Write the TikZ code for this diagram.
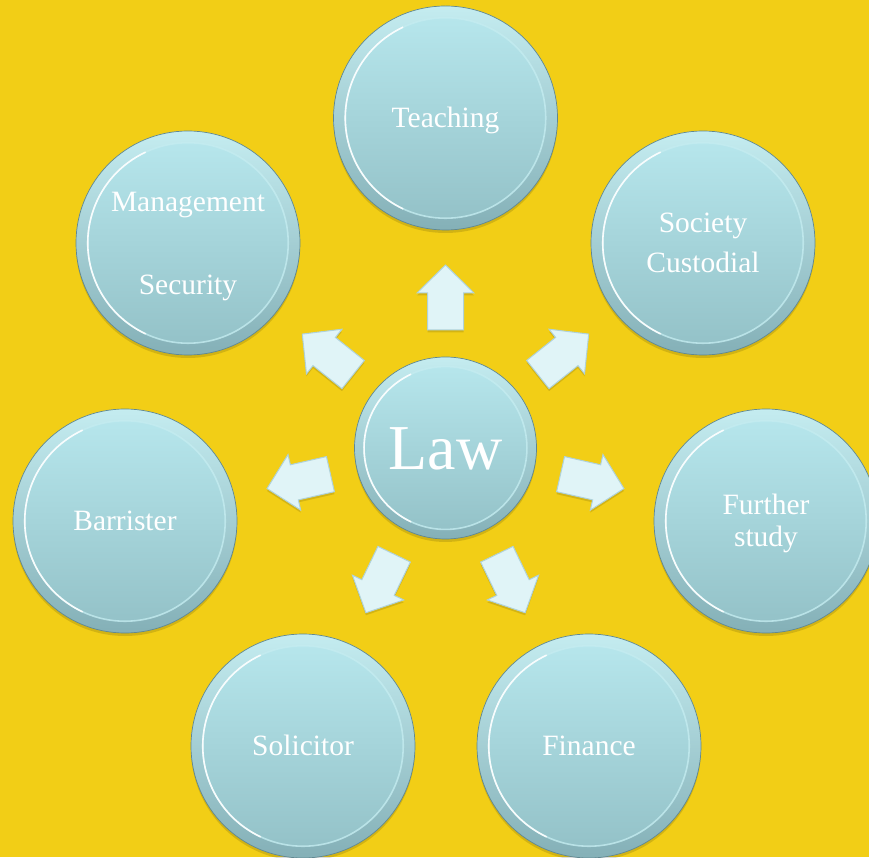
\documentclass[tikz,border=0pt]{standalone}
\usepackage{fontspec}
\setmainfont{Liberation Serif}
\definecolor{bg}{RGB}{242,206,22}
\definecolor{rimtop}{RGB}{196,236,240}
\definecolor{rimbot}{RGB}{132,176,183}
\definecolor{intop}{RGB}{184,232,238}
\definecolor{inbot}{RGB}{146,192,198}
\definecolor{rimline}{RGB}{96,136,146}
\definecolor{arrfill}{RGB}{224,244,247}
\definecolor{arrline}{RGB}{176,210,217}
\newcommand\tstrut{\rule{0pt}{0.891em}}
\newcommand\bstrut{\rule[-0.216em]{0pt}{0.216em}}
\tikzset{
  bubble/.style={circle, inner sep=0pt, minimum size=2*#1pt,
    draw=rimline, line width=0.7pt,
    top color=rimtop, bottom color=rimbot,
    text=white, align=center,
    preaction={fill=black, fill opacity=0.13, transform canvas={yshift=-3pt}},
    path picture={
      \shade[top color=intop, bottom color=inbot]
        (path picture bounding box.center) circle (0.895*#1pt);
      \draw[rimtop, line width=1.6pt, opacity=0.8]
        (path picture bounding box.center) circle (0.895*#1pt);
      \draw[white, line width=1.6pt, opacity=0.9]
        (path picture bounding box.center) ++(115:0.895*#1pt) arc (115:245:0.895*#1pt);
    }},
  outer/.style={bubble=112, font=\fontsize{29.5}{33}\selectfont},
  blockarr/.style={fill=arrfill, draw=arrline, line width=1pt, line join=miter,
    preaction={fill=black, fill opacity=0.12, transform canvas={yshift=-2.5pt}}}
}
\newcommand\lawarrow[1]{%
  \begin{scope}[shift={(law.center)}, rotate=#1]
    \path[blockarr] (118,-18) -- (155,-18) -- (155,-28.5) -- (183,0)
      -- (155,28.5) -- (155,18) -- (118,18) -- cycle;
  \end{scope}}
\begin{document}
\begin{tikzpicture}[x=1pt, y=1pt]
  \fill[bg] (0,0) rectangle (869,857);
  \useasboundingbox (0,0) rectangle (869,857);

  \node[bubble=91, font=\fontsize{64}{72}\selectfont] (law) at (445.5,409) {\tstrut Law\bstrut};

  \node[outer] (teach) at (445.5,739) {\tstrut Teaching\bstrut};
  \node[outer] (mgmt)  at (188,614)   {\tstrut Management\\[50pt]Security\bstrut};
  \node[outer] (soc)   at (703,614)   {\tstrut Society\\[7pt]Custodial\bstrut};
  \node[outer] (furt)  at (766,336)   {\tstrut Further\\[-1pt]study\bstrut};
  \node[outer] (barr)  at (125,336)   {\tstrut Barrister\bstrut};
  \node[outer] (soli)  at (303,111)   {\tstrut Solicitor\bstrut};
  \node[outer] (fin)   at (589,111)   {\tstrut Finance\bstrut};

  \lawarrow{90}
  \lawarrow{38.5}
  \lawarrow{-12.8}
  \lawarrow{-64.2}
  \lawarrow{-115.8}
  \lawarrow{-167.2}
  \lawarrow{141.5}
\end{tikzpicture}
\end{document}
